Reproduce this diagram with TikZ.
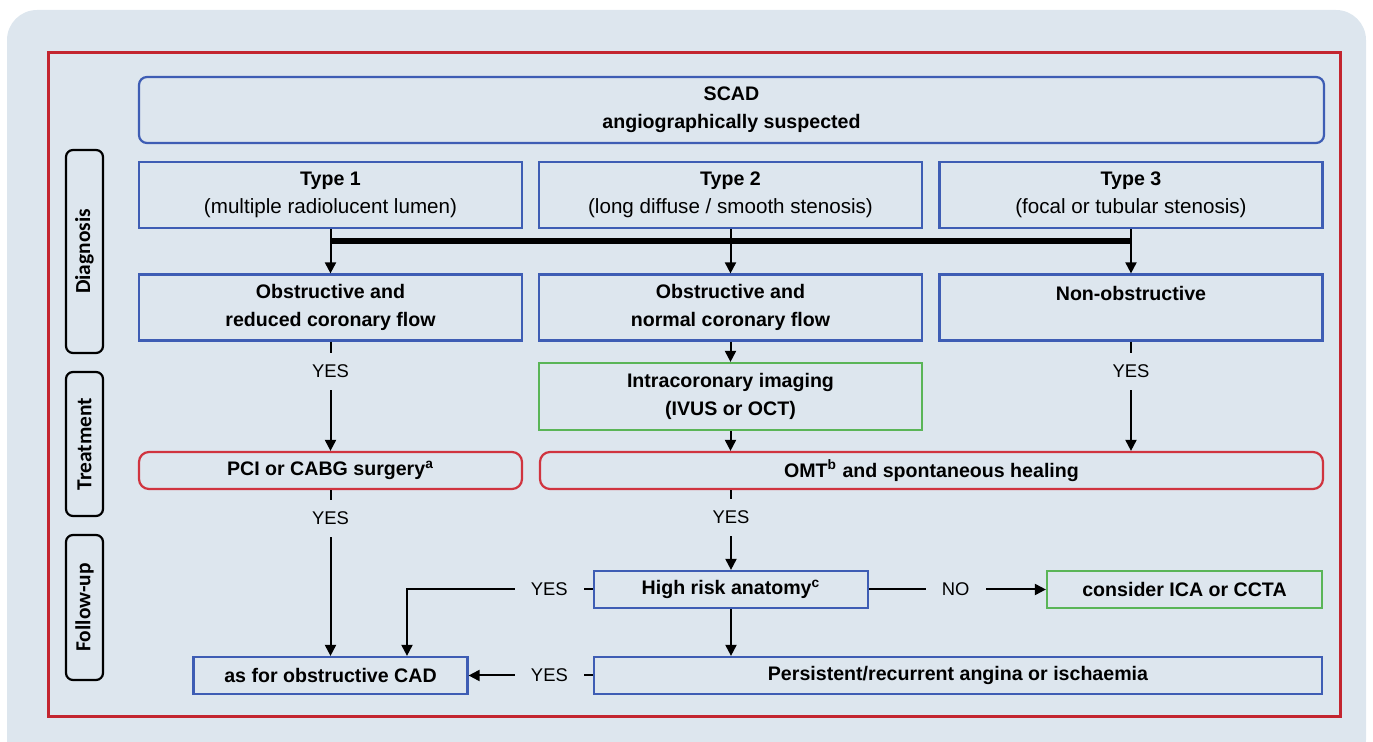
\documentclass[tikz,border=0pt]{standalone}
\usepackage{fontspec}
\setmainfont{Liberation Sans}
\newfontfamily\sidefont{Carlito}
\usetikzlibrary{arrows.meta,calc}

\definecolor{panelbg}{HTML}{DDE6EE}
\definecolor{framered}{HTML}{C3252F}
\definecolor{boxblue}{HTML}{3E5DB4}
\definecolor{boxgreen}{HTML}{5AB557}
\definecolor{boxred}{HTML}{D0343F}
\newcommand{\boxhead}{\bfseries\fontsize{9.8}{14}\selectfont}

\begin{document}
\begin{tikzpicture}[x=0.5pt, y=-0.5pt, >={Triangle[width=5.5pt,length=5.5pt]},
  box/.style={line width=1.1pt, align=center, inner sep=0pt, font=\fontsize{10.3}{14}\selectfont},
  bluebox/.style={box, draw=boxblue},
  greenbox/.style={box, draw=boxgreen},
  redbox/.style={box, draw=boxred, rounded corners=5pt},
  typebox/.style={minimum width=191.5pt, minimum height=33pt},
  smallbox/.style={minimum width=137pt, minimum height=18.5pt},
  side/.style={draw, line width=1.1pt, rounded corners=3.5pt, rotate=90, minimum height=18.5pt,
    inner sep=0pt, font=\sidefont\bfseries\fontsize{10.7}{12}\selectfont},
  arr/.style={->, line width=1pt},
  lbl/.style={fill=panelbg, inner xsep=8pt, inner ysep=6pt, font=\fontsize{9.2}{11}\selectfont}]
  \useasboundingbox (0,0) rectangle (1373,742);
  % --- background and frame ---
  \fill[panelbg, rounded corners=15pt] (7,10) rectangle (1366,770);
  \draw[framered, line width=1.5pt] (48,53) rectangle (1340,717);
  % --- side labels ---
  \node[side, minimum width=101.5pt] (diag) at (84.5,251.5) {Diagnosis};
  \node[side, minimum width=72pt] (treat) at (84.5,444) {Treatment};
  \node[side, minimum width=72.5pt] (follow) at (84.5,607.5) {Follow-up};
  % --- diagnosis ---
  \node[bluebox, rounded corners=4pt, minimum width=592.5pt, minimum height=33pt, font=\boxhead] (scad) at (731.5,110) {SCAD\\angiographically suspected};
  \node[bluebox, typebox] (type1) at (330.5,195) {{\boxhead Type 1}\\(multiple radiolucent lumen)};
  \node[bluebox, typebox] (type2) at (730.5,195) {{\boxhead Type 2}\\(long diffuse / smooth stenosis)};
  \node[bluebox, typebox] (type3) at (1131,195) {{\boxhead Type 3}\\(focal or tubular stenosis)};
  \node[bluebox, typebox, font=\boxhead] (obs1) at (330.5,307.5) {Obstructive and\\reduced coronary flow};
  \node[bluebox, typebox, font=\boxhead] (obs2) at (730.5,307.5) {Obstructive and\\normal coronary flow};
  \node[bluebox, typebox, font=\boxhead] (obs3) at (1131,307.5) {Non-obstructive\\~};
  \node[greenbox, typebox, minimum height=33.5pt, font=\boxhead] (icimg) at (730.5,396.5) {Intracoronary imaging\\(IVUS or OCT)};
  % --- treatment ---
  \node[redbox, minimum width=191.5pt, minimum height=18.5pt, font=\boxhead] (pci) at (330.5,470.5) {PCI or CABG surgery\textsuperscript{a}};
  \node[redbox, minimum width=391.5pt, minimum height=18.5pt, font=\boxhead] (omt) at (931.5,470.5) {OMT\textsuperscript{b} and spontaneous healing};
  % --- follow-up ---
  \node[bluebox, smallbox, font=\boxhead] (hrisk) at (731,589.5) {High risk anatomy\textsuperscript{c}};
  \node[greenbox, smallbox, minimum width=137.5pt, font=\boxhead] (consider) at (1184.5,589.5) {consider ICA or CCTA};
  \node[bluebox, smallbox, font=\boxhead] (asfor) at (330.5,675.5) {as for obstructive CAD};
  \node[bluebox, smallbox, minimum width=364pt, font=\boxhead] (pers) at (958,675.5) {Persistent/recurrent angina or ischaemia};
  % --- connectors ---
  \coordinate (barL) at (330.5,241);
  \coordinate (barR) at (1131,241);
  \draw[line width=2.6pt] (barL) -- (barR);
  \draw[arr] (type1) -- (obs1);
  \draw[arr] (type2) -- (obs2);
  \draw[arr] (type3) -- (obs3);
  \draw[arr] (obs1) -- node[lbl, pos=0.27] {YES} (pci);
  \draw[arr] (obs2) -- (icimg);
  \draw[arr] (icimg) -- (icimg.south |- omt.north);
  \draw[arr] (obs3) -- node[lbl, pos=0.27] {YES} (obs3.south |- omt.north);
  \draw[arr] (omt.south -| hrisk.north) -- node[lbl, pos=0.34] {YES} (hrisk);
  \draw[arr] (pci) -- node[lbl, pos=0.17] {YES} (asfor);
  \draw[arr] (hrisk) -- node[lbl, pos=0.49] {NO} (consider);
  \coordinate (hrbend) at (407,589.5);
  \draw[arr] (hrisk) -- node[lbl, pos=0.235] {YES} (hrbend) -- (hrbend |- asfor.north);
  \draw[arr] (hrisk) -- (hrisk.south |- pers.north);
  \draw[arr] (pers) -- node[lbl, pos=0.35] {YES} (asfor);
\end{tikzpicture}
\end{document}
